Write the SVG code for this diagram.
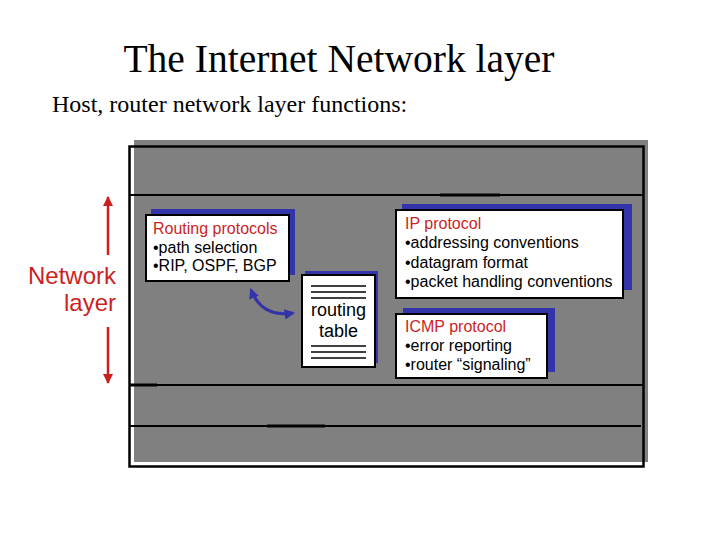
<svg xmlns="http://www.w3.org/2000/svg" width="720" height="540" viewBox="0 0 720 540">
<style>
.title{font-family:"Liberation Serif","Times New Roman",serif;fill:#000}
.txt{font-family:"Liberation Sans",Arial,sans-serif;font-size:16px;fill:#000}
.big{font-size:24px}
.mid{font-size:18px}
.red{fill:#cc1f1f}
.shadow{fill:#3333aa}
.box{fill:#fff;stroke:#000;stroke-width:2}
.rule{stroke:#000;stroke-width:1.8;fill:none}
.thick{stroke:#000;stroke-width:3;fill:none}
.tline{stroke:#000;stroke-width:1.6}
</style>
<defs>
<marker id="redhead" viewBox="0 0 10 10" refX="9" refY="5" markerWidth="4" markerHeight="5" orient="auto-start-reverse" markerUnits="strokeWidth">
<path d="M0,0 L10,5 L0,10 z" fill="#cc1f1f"/>
</marker>
<marker id="bluehead" viewBox="0 0 10 10" refX="8" refY="5" markerWidth="3.5" markerHeight="3.5" orient="auto-start-reverse" markerUnits="strokeWidth">
<path d="M0,0 L10,5 L0,10 z" fill="#3333aa"/>
</marker>
</defs>
<rect width="720" height="540" fill="#fff"/>
<text class="title" x="339" y="72" font-size="39.5" text-anchor="middle">The Internet Network layer</text>
<text class="title" x="52" y="112" font-size="24">Host, router network layer functions:</text>

<g id="stack">
<rect x="134" y="140" width="514" height="322" fill="#808080"/>
<rect x="129.5" y="146.5" width="514" height="320" fill="none" stroke="#000" stroke-width="2.5"/>
<line class="rule" x1="130" y1="195" x2="643" y2="195"/>
<line class="thick" x1="440" y1="195" x2="500" y2="195"/>
<line class="rule" x1="130" y1="385" x2="643" y2="385"/>
<line class="thick" x1="130" y1="385" x2="157" y2="385"/>
<line class="rule" x1="130" y1="426" x2="641" y2="426"/>
<line class="thick" x1="267" y1="426" x2="325" y2="426"/>
</g>

<g id="network-layer-label">
<text class="txt big red" x="116" y="284" text-anchor="end">Network</text>
<text class="txt big red" x="116" y="311" text-anchor="end">layer</text>
</g>

<g id="routing-protocols">
<rect class="shadow" x="151" y="209" width="144" height="66"/>
<rect class="box" x="146" y="215" width="143" height="66"/>
<text class="txt red" x="153" y="234">Routing protocols</text>
<text class="txt" x="153" y="253">•path selection</text>
<text class="txt" x="153" y="271">•RIP, OSPF, BGP</text>
</g>

<g id="routing-table">
<rect class="shadow" x="305" y="271" width="73" height="92"/>
<rect class="box" x="302" y="275" width="73" height="92"/>
<line class="tline" x1="311" y1="286" x2="366" y2="286"/>
<line class="tline" x1="311" y1="292" x2="366" y2="292"/>
<line class="tline" x1="311" y1="298" x2="366" y2="298"/>
<text class="txt mid" x="338.5" y="316" text-anchor="middle">routing</text>
<text class="txt mid" x="338.5" y="337" text-anchor="middle">table</text>
<line class="tline" x1="311" y1="346" x2="366" y2="346"/>
<line class="tline" x1="311" y1="352" x2="366" y2="352"/>
<line class="tline" x1="311" y1="358" x2="366" y2="358"/>
</g>

<g id="ip-protocol">
<rect class="shadow" x="402" y="204" width="230" height="86"/>
<rect class="box" x="396" y="210" width="227" height="88"/>
<text class="txt red" x="405" y="229">IP protocol</text>
<text class="txt" x="405" y="248">•addressing conventions</text>
<text class="txt" x="405" y="268">•datagram format</text>
<text class="txt" x="405" y="287">•packet handling conventions</text>
</g>

<g id="icmp-protocol">
<rect class="shadow" x="403" y="308" width="152" height="64"/>
<rect class="box" x="396" y="314" width="151" height="64"/>
<text class="txt red" x="405" y="332">ICMP protocol</text>
<text class="txt" x="405" y="351">•error reporting</text>
<text class="txt" x="405" y="370">•router “signaling”</text>
</g>

<g id="connectors">
<line x1="108" y1="255" x2="108" y2="197" stroke="#cc1f1f" stroke-width="2.5" marker-end="url(#redhead)"/>
<line x1="108" y1="327" x2="108" y2="383" stroke="#cc1f1f" stroke-width="2.5" marker-end="url(#redhead)"/>
<path d="M251,290 Q262,318 293,313" fill="none" stroke="#3333aa" stroke-width="3" marker-start="url(#bluehead)" marker-end="url(#bluehead)"/>
</g>
</svg>
